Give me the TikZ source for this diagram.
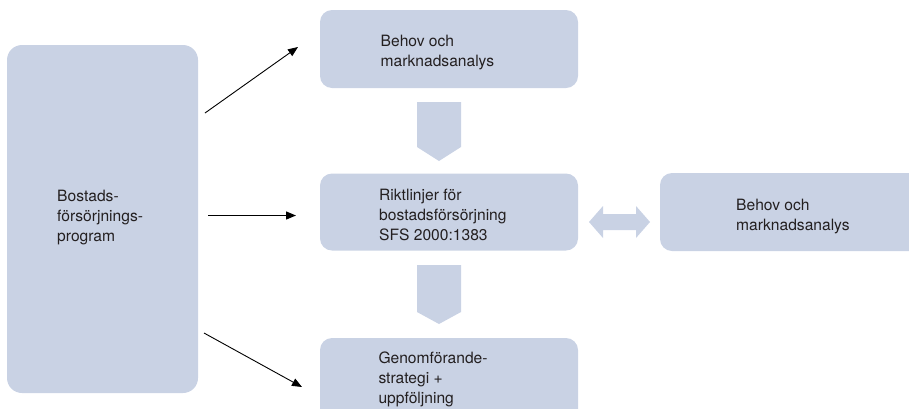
\documentclass[tikz,border=0pt]{standalone}
\usepackage{fontspec}
\setmainfont{TeX Gyre Heros}
\usetikzlibrary{arrows.meta}
\definecolor{boxblue}{RGB}{201,210,228}
\definecolor{txt}{RGB}{35,31,32}
\tikzset{
  panel/.style={rectangle, rounded corners=12pt, fill=boxblue, draw=none, inner sep=0pt},
  label/.style={anchor=base west, inner sep=0pt, text=txt, font=\fontsize{15.6}{20}\selectfont},
  link/.style={draw=black, line width=0.9pt, -{Triangle[length=10pt,width=8pt]}},
  blockarrow/.style={fill=boxblue, draw=none}
}
\newcommand{\lines}[1]{\parbox[t]{220pt}{\raggedright #1}}
\begin{document}
\begin{tikzpicture}[x=1pt,y=-1pt]
\useasboundingbox (0,0) rectangle (909,408);
\clip (0,0) rectangle (909,408);
% boxes
\node[panel, minimum width=191pt, minimum height=348pt, rounded corners=15pt] (prog) at (102.5,219) {};
\node[panel, minimum width=258pt, minimum height=78pt] (behov) at (449,49) {};
\node[panel, minimum width=258pt, minimum height=77pt] (rikt) at (449,212) {};
\node[panel, minimum width=258pt, minimum height=86pt] (genom) at (449,381) {};
\node[panel, minimum width=266pt, minimum height=78pt] (behov2) at (793,212) {};
% texts
\node[label] (tprog) at (57,201.7) {\lines{Bostads-\\försörjnings-\\program}};
\node[label] (tbehov) at (380.5,46.7) {\lines{Behov och\\marknadsanalys}};
\node[label] (trikt) at (379,200.7) {\lines{Riktlinjer för\\bostadsförsörjning\\SFS 2000:1383}};
\node[label] (tbehov2) at (736,210) {\lines{Behov och\\marknadsanalys}};
\node[label] (tgenom) at (378.3,363.3) {\lines{Genomförande-\\strategi +\\uppföljning}};
% block arrows
\fill[blockarrow] (417,102) -- (461,102) -- (461,147) -- (439,161) -- (417,147) -- cycle;
\fill[blockarrow] (417,265) -- (461,265) -- (461,312) -- (439,324) -- (417,312) -- cycle;
\fill[blockarrow] (589,222) -- (603,206) -- (603,214) -- (636,214) -- (636,206) -- (650,222) -- (636,238) -- (636,230) -- (603,230) -- (603,238) -- cycle;
% connectors
\coordinate (s1) at (205,113);
\coordinate (e1) at (298,47);
\coordinate (s2) at (208,215.5);
\coordinate (e2) at (296,215.5);
\coordinate (s3) at (204,333);
\coordinate (e3) at (302,387);
\draw[link] (s1) -- (e1);
\draw[link, line width=1.4pt] (s2) -- (e2);
\draw[link] (s3) -- (e3);
\end{tikzpicture}
\end{document}
